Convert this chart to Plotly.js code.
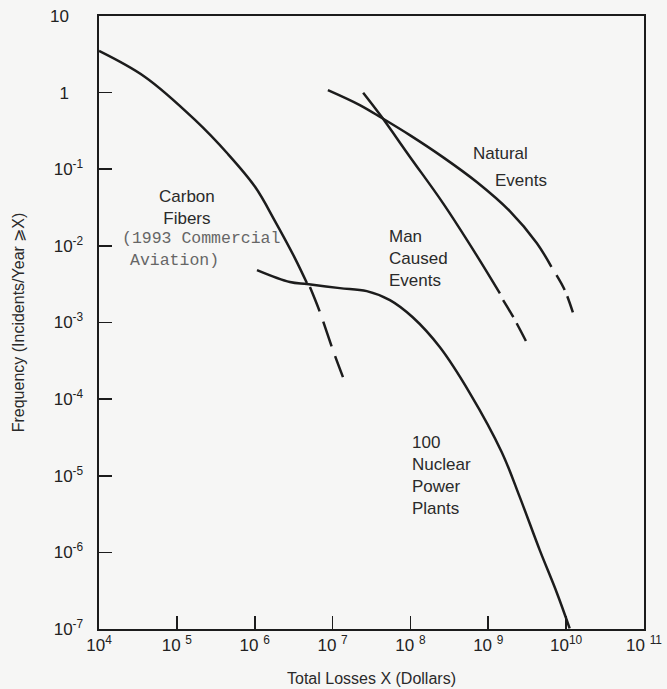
<!DOCTYPE html>
<html>
<head>
<meta charset="utf-8">
<script src="https://cdn.plot.ly/plotly-3.0.1.min.js"></script>
<style>html,body{margin:0;padding:0;background:#f6f6f5;}#chart{width:667px;height:689px;}</style>
</head>
<body>
<div id="chart"></div>
<script>
// ---- Data ----
// Carbon Fibers (1993 Commercial Aviation)
const carbonX      = [1.0e4, 3.9e4, 1.71e5, 4.53e5, 1.01e6, 1.82e6, 3.28e6, 4.68e6];
const carbonY      = [3.5, 1.6, 0.44, 0.158, 0.059, 0.0211, 0.00693, 0.00327];
const carbonDashX  = [5.12e6, 6.87e6, 1.01e7, 1.36e7];
const carbonDashY  = [2.90e-3, 1.37e-3, 4.37e-4, 1.94e-4];
// 100 Nuclear Power Plants
const nuclearX = [1.07e6, 2.83e6, 4.68e6, 1.24e7, 2.75e7, 5.45e7, 1.07e8, 2.38e8, 5.79e8, 1.49e9, 2.54e9, 4.58e9, 7.57e9, 1.11e10];
const nuclearY = [4.83e-3, 3.37e-3, 3.17e-3, 2.81e-3, 2.57e-3, 1.96e-3, 1.17e-3, 4.78e-4, 1.20e-4, 2.03e-5, 5.26e-6, 1.07e-6, 3.0e-7, 1.02e-7];
// Natural Events
const naturalX     = [8.71e6, 2.24e7, 4.30e7, 9.82e7, 2.61e8, 7.11e8, 1.89e9, 4.19e9, 6.47e9];
const naturalY     = [1.08, 0.689, 0.466, 0.279, 0.144, 0.0681, 0.0284, 0.0109, 5.33e-3];
const naturalDashX = [7.52e9, 9.59e9, 1.23e10];
const naturalDashY = [4.16e-3, 2.65e-3, 1.32e-3];
// Man Caused Events
const manX     = [2.47e7, 4.26e7, 9.82e7, 2.63e8, 7.06e8, 1.41e9];
const manY     = [0.998, 0.484, 0.146, 0.0359, 7.59e-3, 2.40e-3];
const manDashX = [1.55e9, 2.08e9, 3.24e9];
const manDashY = [1.96e-3, 1.19e-3, 5.07e-4];

// Tick values and labels
const xTickVals = [1e4, 1e5, 1e6, 1e7, 1e8, 1e9, 1e10, 1e11];
const xTickText = ["10<sup>4</sup>", "10\u00a0<sup>5</sup>", "10\u00a0<sup>6</sup>", "10\u00a0<sup>7</sup>", "10\u00a0<sup>8</sup>", "10\u00a0<sup>9</sup>", "10<sup>10</sup>", "10\u00a0<sup>11</sup>"];
const yTickVals = [1e-7, 1e-6, 1e-5, 1e-4, 1e-3, 1e-2, 1e-1, 1, 10];
const yTickText = ["10<sup>-7</sup>", "10<sup>-6</sup>", "10<sup>-5</sup>", "10<sup>-4</sup>", "10<sup>-3</sup>", "10<sup>-2</sup>", "10<sup>-1</sup>", "1\u00a0\u00a0\u00a0", "10\u00a0\u00a0\u00a0"];

const ink = "#1c1c1c";
function solid(x, y) {
  return {x: x, y: y, mode: "lines", line: {color: ink, width: 2.5, shape: "spline", smoothing: 1}, hoverinfo: "skip", showlegend: false, cliponaxis: false};
}
function dashed(x, y, pattern) {
  return {x: x, y: y, mode: "lines", line: {color: ink, width: 2.5, shape: "spline", smoothing: 1, dash: pattern}, hoverinfo: "skip", showlegend: false};
}

const traces = [
  solid(carbonX, carbonY),
  dashed(carbonDashX, carbonDashY, "26px,11px"),
  solid(nuclearX, nuclearY),
  solid(naturalX, naturalY),
  dashed(naturalDashX, naturalDashY, "17px,7px"),
  solid(manX, manY),
  dashed(manDashX, manDashY, "20px,7px")
];

const labelFont = {family: "Liberation Sans, Arial, sans-serif", size: 17, color: "#2a2a2a"};
const monoFont = {family: "Liberation Mono, Courier New, monospace", size: 16.5, color: "#666"};
// paper coordinate helpers for label placement (plot area 99..644 x 16..629 px)
function px(p) { return (p - 99) / 545; }
function py(p) { return (629 - p) / 613; }
function label(text, x, y, font, xanchor, align) {
  return {text: text, xref: "paper", yref: "paper", x: px(x), y: py(y), xanchor: xanchor, yanchor: "middle", align: align, showarrow: false, font: font};
}

const layout = {
  width: 667, height: 689,
  margin: {l: 99, r: 23, t: 16, b: 60},
  paper_bgcolor: "#f6f6f5", plot_bgcolor: "#f6f6f5",
  showlegend: false,
  font: {family: "Liberation Sans, Arial, sans-serif", color: "#222"},
  xaxis: {
    type: "log", range: [4, 11], autorange: false,
    tickmode: "array", tickvals: xTickVals, ticktext: xTickText,
    ticks: "inside", ticklen: 13, tickwidth: 1.6, tickcolor: ink,
    showline: true, linewidth: 2, linecolor: ink, mirror: true,
    showgrid: false, zeroline: false,
    tickfont: {size: 17, color: "#222"},
    title: {text: "Total Losses X (Dollars)", font: {size: 16, color: "#2a2a2a"}, standoff: 18}
  },
  yaxis: {
    type: "log", range: [-7, 1], autorange: false,
    tickmode: "array", tickvals: yTickVals, ticktext: yTickText,
    ticks: "inside", ticklen: 13, tickwidth: 1.6, tickcolor: ink,
    ticklabelstandoff: 10,
    showline: true, linewidth: 2.4, linecolor: ink, mirror: true,
    showgrid: false, zeroline: false,
    tickfont: {size: 17, color: "#222"},
    title: {text: "Frequency (Incidents/Year \u2A7EX)", font: {size: 16, color: "#2a2a2a"}, standoff: 22}
  },
  annotations: [
    label("Carbon<br>Fibers", 187, 207.5, labelFont, "center", "center"),
    label("(1993 Commercial", 120, 239, monoFont, "left", "left"),
    label("Aviation)", 128, 260, monoFont, "left", "left"),
    label("Natural", 471, 153, labelFont, "left", "left"),
    label("Events", 493, 180, labelFont, "left", "left"),
    label("Man<br>Caused<br>Events", 387, 258, labelFont, "left", "left"),
    label("100<br>Nuclear<br>Power<br>Plants", 410, 475.5, labelFont, "left", "left")
  ]
};

Plotly.newPlot("chart", traces, layout, {staticPlot: true, displayModeBar: false});
</script>
</body>
</html>
